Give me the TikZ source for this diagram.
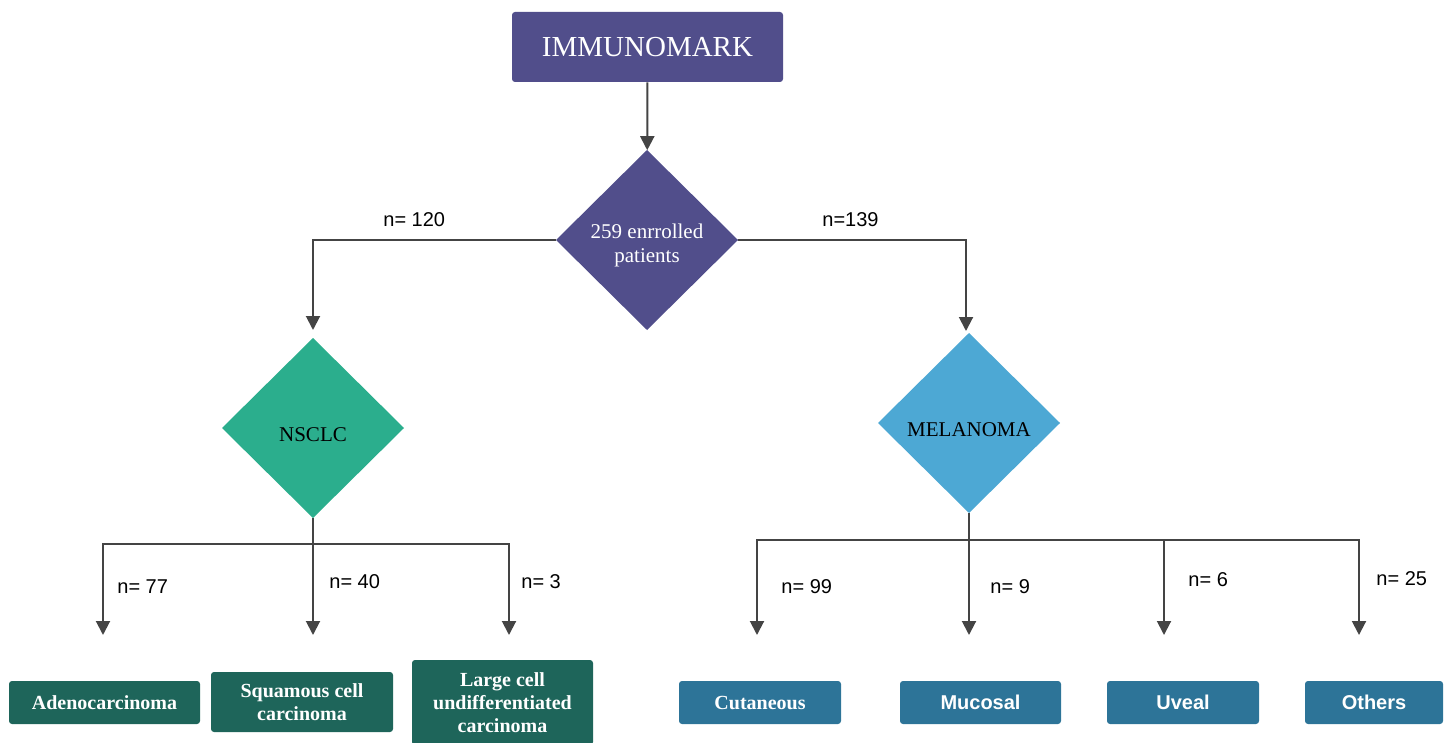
\documentclass[tikz,border=0pt]{standalone}
\usepackage{fontspec}
\setmainfont{Liberation Serif}
\newfontfamily\labelfont{Liberation Sans}
\usetikzlibrary{arrows.meta, positioning, shapes.geometric}
\definecolor{purplebg}{RGB}{81, 78, 139}
\definecolor{tealbg}{RGB}{43, 174, 141}
\definecolor{skybg}{RGB}{77, 168, 212}
\definecolor{darkgreen}{RGB}{30, 101, 90}
\definecolor{steelblue}{RGB}{45, 116, 152}
\definecolor{linegray}{RGB}{68, 68, 68}

\begin{document}
\begin{tikzpicture}[
  x=0.5pt, y=-0.5pt,
  topbox/.style={rectangle, rounded corners=1.5pt, fill=purplebg, text=white,
    minimum width=135.5pt, minimum height=35pt, inner sep=0pt,
    font=\fontsize{14.5}{16}\selectfont},
  choice/.style={diamond, inner sep=0pt, outer sep=0pt, minimum width=91pt,
    minimum height=90pt, align=center, text height=13pt, text depth=0pt,
    font=\fontsize{10.5}{12}\selectfont},
  greenbox/.style={rectangle, rounded corners=1.5pt, fill=darkgreen, text=white,
    inner sep=0pt, minimum height=21.5pt, align=center,
    font=\fontsize{10}{11.5}\selectfont\bfseries},
  bluebox/.style={rectangle, rounded corners=1.5pt, fill=steelblue, text=white,
    inner sep=0pt, minimum height=21.5pt, align=center,
    font=\fontsize{10}{11.5}\selectfont\bfseries},
  sansbox/.style={bluebox, font=\labelfont\fontsize{10}{11.5}\selectfont\bfseries},
  count/.style={anchor=base west, inner sep=0pt, text=black,
    font=\labelfont\fontsize{10}{12}\selectfont},
  arr/.style={-{Triangle[length=7pt, width=7pt]}, draw=linegray, line width=1pt},
  link/.style={draw=linegray, line width=1pt}
]
\useasboundingbox (0,0) rectangle (1445,743);

\node[topbox] (title) at (647.5,47) {IMMUNOMARK};
\node[choice, fill=purplebg, text=white, text height=25pt, text depth=2pt] (enrolled) at (647,240) {259 enrrolled\\patients};
\node[choice, fill=tealbg] (nsclc) at (313,428) {NSCLC};
\node[choice, fill=skybg] (melanoma) at (969,423) {MELANOMA};

\node[greenbox, minimum width=95.5pt] (adeno) at (104.5,702.5) {Adenocarcinoma};
\node[greenbox, minimum width=91pt, minimum height=30pt] (squamous) at (302,702) {Squamous cell\\carcinoma};
\node[greenbox, minimum width=90.5pt, minimum height=42.5pt] (largecell) at (502.5,702.5) {Large cell\\undifferentiated\\carcinoma};

\node[bluebox, minimum width=81pt] (cutaneous) at (760,702.5) {Cutaneous};
\node[sansbox, minimum width=80.5pt] (mucosal) at (980.5,702.5) {Mucosal};
\node[sansbox, minimum width=76pt] (uveal) at (1183,702.5) {Uveal};
\node[sansbox, minimum width=69pt] (others) at (1374,702.5) {Others};

\coordinate (nsplit) at (313,544);
\coordinate (adarr) at (103,635);
\coordinate (sqarr) at (313,635);
\coordinate (lcarr) at (509,635);
\coordinate (msplit) at (969,540);
\coordinate (cuarr) at (757,635);
\coordinate (muarr) at (969,635);
\coordinate (uvarr) at (1164,635);
\coordinate (otarr) at (1359,635);

\draw[arr] (title) -- (enrolled);
\draw[arr, shorten >=4pt] (enrolled.west) -| (nsclc.north);
\draw[arr, shorten >=1pt] (enrolled.east) -| ([xshift=-1.5pt]melanoma.north);

\draw[link] (nsclc.south) -- (nsplit);
\foreach \t in {adarr, sqarr, lcarr}
  \draw[arr] (nsplit) -| (\t);
\draw[link] (melanoma.south) -- (msplit);
\foreach \t in {cuarr, muarr, uvarr, otarr}
  \draw[arr] (msplit) -| (\t);

\node[count] (n120) at (383,227) {n= 120};
\node[count] (n139) at (822,227) {n=139};
\node[count] (n77) at (117,593) {n= 77};
\node[count] (n40) at (329,588) {n= 40};
\node[count] (n3) at (521,588) {n= 3};
\node[count] (n99) at (781,593) {n= 99};
\node[count] (n9) at (990,593) {n= 9};
\node[count] (n6) at (1188,586) {n= 6};
\node[count] (n25) at (1376,585) {n= 25};

\end{tikzpicture}
\end{document}
